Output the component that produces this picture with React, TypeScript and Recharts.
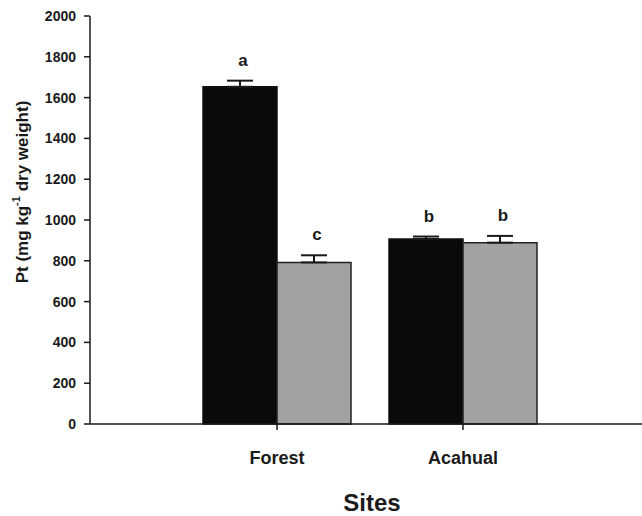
import { BarChart, Bar, XAxis, YAxis, ErrorBar, LabelList, Label } from 'recharts'

const sites = ['Forest', 'Acahual']
const darkValues = [1653, 907]
const darkErrors = [30, 12]
const darkLetters = ['a', 'b']
const greyValues = [792, 889]
const greyErrors = [35, 33]
const greyLetters = ['c', 'b']
const yTicks = [0, 200, 400, 600, 800, 1000, 1200, 1400, 1600, 1800, 2000]

const FONT = '"Liberation Sans", Arial, sans-serif'
const INK = '#1a1a1a'

const data = sites.map((site, i) => ({
  site,
  dark: darkValues[i],
  darkErr: [0, darkErrors[i]],
  darkLetter: darkLetters[i],
  grey: greyValues[i],
  greyErr: [0, greyErrors[i]],
  greyLetter: greyLetters[i]
}))

// letter sits above the error bar cap; px per unit comes from the bar itself
function letterLabel(values: number[], errors: number[]) {
  return (props: any) => {
    const { x, y, width, height, value, index } = props
    const pxPerUnit = height / values[index]
    const capY = y - errors[index] * pxPerUnit
    return (
      <text
        x={x + width / 2 + 3}
        y={capY - 15}
        textAnchor="middle"
        fontFamily={FONT}
        fontWeight="bold"
        fontSize={17}
        fill={INK}
      >
        {value}
      </text>
    )
  }
}

export default function App() {
  return (
    <div style={{ position: 'absolute', left: 0, top: 0, background: '#fff' }}>
      <BarChart
        width={642}
        height={516}
        data={data}
        margin={{ top: 16, right: 0, bottom: 0, left: 0 }}
        barGap={0}
        barCategoryGap={19}
      >
        <XAxis
          dataKey="site"
          padding={{ left: 94, right: 86 }}
          height={92}
          stroke={INK}
          strokeWidth={1.5}
          tickSize={6}
          tickMargin={21}
          tick={{ fill: INK, fontSize: 18, fontWeight: 'bold', fontFamily: FONT }}
        >
          <Label
            content={(props: any) => {
              const vb = props.viewBox
              return (
                <text
                  x={vb.x + vb.width / 2 + 6}
                  y={vb.y + vb.height - 5}
                  textAnchor="middle"
                  fontFamily={FONT}
                  fontWeight="bold"
                  fontSize={24}
                  fill={INK}
                >
                  Sites
                </text>
              )
            }}
          />
        </XAxis>
        <YAxis
          domain={[0, 2000]}
          ticks={yTicks}
          width={90}
          stroke={INK}
          strokeWidth={1.5}
          tickSize={6}
          tickMargin={8}
          tick={{ fill: INK, fontSize: 14, fontWeight: 'bold', fontFamily: FONT }}
          label={{
            content: (props: any) => {
              const vb = props.viewBox
              const cx = vb.x + 22
              const cy = vb.y + vb.height / 2 - 28
              return (
                <text
                  x={cx}
                  y={cy}
                  transform={`rotate(-90 ${cx} ${cy})`}
                  textAnchor="middle"
                  dominantBaseline="central"
                  fontFamily={FONT}
                  fontWeight="bold"
                  fontSize={17}
                  fill={INK}
                >
                  Pt (mg kg
                  <tspan dy={-6} fontSize={11}>-1</tspan>
                  <tspan dy={6}> dry weight)</tspan>
                </text>
              )
            }
          }}
        />
        <Bar dataKey="dark" fill="#0a0a0a" stroke="#111" strokeWidth={1.5} isAnimationActive={false}>
          <ErrorBar dataKey="darkErr" direction="y" width={13} stroke={INK} strokeWidth={2} />
          <LabelList dataKey="darkLetter" content={letterLabel(darkValues, darkErrors)} />
        </Bar>
        <Bar dataKey="grey" fill="#a2a2a2" stroke="#222" strokeWidth={1.5} isAnimationActive={false}>
          <ErrorBar dataKey="greyErr" direction="y" width={13} stroke={INK} strokeWidth={2} />
          <LabelList dataKey="greyLetter" content={letterLabel(greyValues, greyErrors)} />
        </Bar>
      </BarChart>
    </div>
  )
}
